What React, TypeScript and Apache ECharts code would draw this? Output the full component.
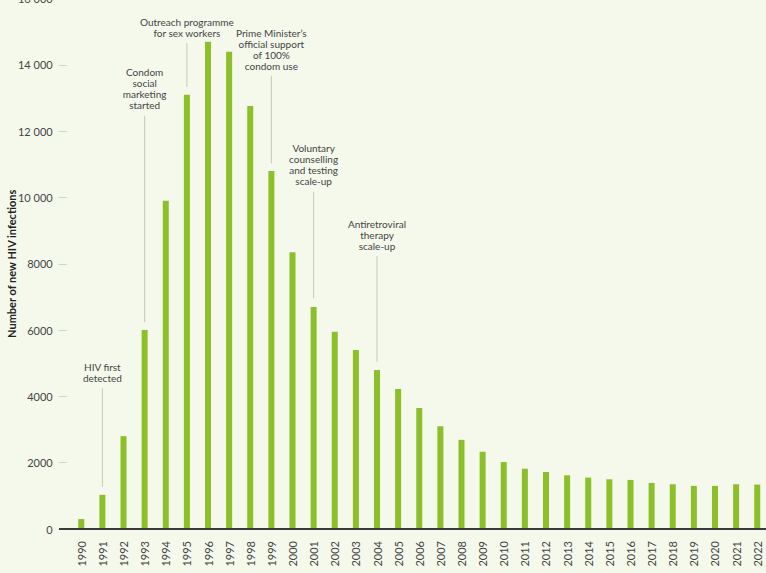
import React, { useEffect, useRef } from "react";
import * as echarts from "echarts";

const years: string[] = [];
for (let y = 1990; y <= 2022; y++) years.push(String(y));

const newInfections = [
  300, 1030, 2800, 6000, 9900, 13100, 14700, 14400, 12760, 10800,
  8350, 6700, 5950, 5400, 4800, 4220, 3650, 3100, 2690, 2330,
  2020, 1820, 1720, 1620, 1550, 1500, 1480, 1390, 1350, 1300,
  1300, 1350, 1340,
];

const yTickValues = [0, 2000, 4000, 6000, 8000, 10000, 12000, 14000, 16000];

const annotationYears = ["1991", "1993", "1995", "1999", "2001", "2004"];
const annotationLabels = [
  "HIV first\ndetected",
  "Condom\nsocial\nmarketing\nstarted",
  "Outreach programme\nfor sex workers",
  "Prime Minister’s\nofficial support\nof 100%\ncondom use",
  "Voluntary\ncounselling\nand testing\nscale-up",
  "Antiretroviral\ntherapy\nscale-up",
];
const annotationTop = [4250, 12460, 14660, 13665, 10175, 8235];
const annotationBottom = [1270, 6240, 13340, 11030, 6960, 5040];

const FONT = "Lato, 'Open Sans', sans-serif";

export default function App() {
  const ref = useRef<HTMLDivElement>(null);
  useEffect(() => {
    document.body.style.margin = "0";
    document.body.style.background = "#f4f9ec";
    if (!ref.current) return;
    const chart = echarts.init(ref.current, undefined, { renderer: "svg" });
    const fmt = (v: number) =>
      v >= 10000 ? String(v).replace(/\B(?=(\d{3})+(?!\d))/g, " ") : String(v);
    chart.setOption({
      animation: false,
      backgroundColor: "#f4f9ec",
      textStyle: { fontFamily: FONT },
      grid: {
        left: 70.7,
        right: -1.8,
        top: -1.4,
        bottom: 44,
        containLabel: false,
        outerBoundsMode: "none",
      },
      xAxis: {
        type: "category",
        data: years,
        axisLine: { show: false },
        axisTick: { show: false },
        axisLabel: {
          rotate: 90,
          margin: 12,
          fontSize: 11,
          color: "#444",
          fontFamily: FONT,
          interval: 0,
        },
      },
      yAxis: {
        type: "value",
        min: yTickValues[0],
        max: yTickValues[yTickValues.length - 1],
        interval: 2000,
        offset: 4,
        splitLine: { show: false },
        axisLine: { show: false },
        axisTick: { show: true, length: 8, lineStyle: { color: "#cfd4c8", width: 1 } },
        axisLabel: {
          fontSize: 11,
          color: "#444",
          margin: 14,
          fontFamily: FONT,
          formatter: (v: number) => fmt(v),
        },
        name: "Number of new HIV infections",
        nameLocation: "middle",
        nameGap: 50,
        nameMoveOverlap: false,
        nameTextStyle: { fontSize: 11, fontWeight: "bold", color: "#222", fontFamily: FONT },
      },
      graphic: [
        {
          type: "line",
          shape: { x1: 59, y1: 529, x2: 766, y2: 529 },
          style: { stroke: "#3a3a3a", lineWidth: 2 },
          z: 10,
        },
      ],
      series: [
        {
          type: "bar",
          data: newInfections,
          barWidth: 6,
          itemStyle: { color: "#8dbf2a" },
          silent: true,
        },
        {
          type: "custom",
          silent: true,
          z: 5,
          data: annotationYears.map((c, i) => [
            years.indexOf(c),
            annotationTop[i],
            annotationBottom[i],
            i,
          ]),
          renderItem: (params: any, api: any) => {
            const idx = api.value(0);
            const top = api.coord([idx, api.value(1)]);
            const bot = api.coord([idx, api.value(2)]);
            const li = api.value(3);
            return {
              type: "group",
              children: [
                {
                  type: "line",
                  shape: { x1: top[0], y1: top[1], x2: bot[0], y2: bot[1] },
                  style: { stroke: "#c4c8bf", lineWidth: 1 },
                },
                {
                  type: "text",
                  style: {
                    text: annotationLabels[li],
                    x: top[0],
                    y: top[1] - 5,
                    align: "center",
                    verticalAlign: "bottom",
                    fontSize: 10,
                    lineHeight: 11,
                    fill: "#444",
                    fontFamily: FONT,
                  },
                },
              ],
            };
          },
        },
      ],
    });
    return () => chart.dispose();
  }, []);
  return <div ref={ref} style={{ width: 766, height: 573 }} />;
}
